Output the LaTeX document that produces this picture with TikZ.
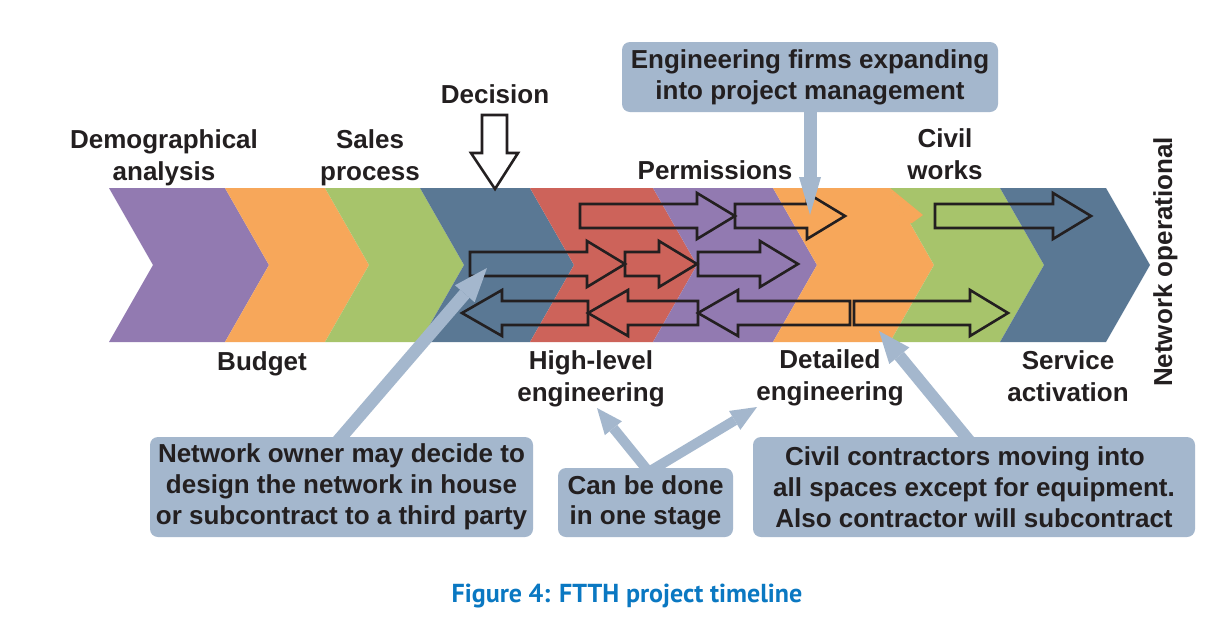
\documentclass[tikz,border=0pt]{standalone}
\usepackage{fontspec}
\setmainfont{Liberation Sans}
\newfontfamily\capfont{PT Sans}
\usetikzlibrary{arrows.meta}
\definecolor{ink}{HTML}{231F20}
\definecolor{cpurple}{HTML}{927AB1}
\definecolor{corange}{HTML}{F7A75A}
\definecolor{cgreen}{HTML}{A7C46B}
\definecolor{cslate}{HTML}{5A7894}
\definecolor{cred}{HTML}{CD635A}
\definecolor{callout}{HTML}{A4B7CD}
\definecolor{capblue}{HTML}{0A78C2}
\newcommand\chev[3]{%
  \fill[#1] (#2,188) -- (#3,188) -- (#3+44,265) -- (#3,342) -- (#2,342) -- (#2+44,265) -- cycle;}
\newcommand\blkR[3]{%
  \draw[blockarr] (#1,#3-12) -- (#2-38,#3-12) -- (#2-38,#3-23) -- (#2,#3) -- (#2-38,#3+23) -- (#2-38,#3+12) -- (#1,#3+12) -- cycle;}
\newcommand\blkL[3]{%
  \draw[blockarr] (#2,#3-12) -- (#1+40,#3-12) -- (#1+40,#3-23) -- (#1,#3) -- (#1+40,#3+23) -- (#1+40,#3+12) -- (#2,#3+12) -- cycle;}
\begin{document}
\begin{tikzpicture}[x=1pt,y=-1pt,
  lbl/.style={font=\fontsize{26}{32}\selectfont\bfseries, text=ink, align=center, inner sep=0pt, anchor=base},
  blockarr/.style={draw=ink, line width=2.6pt, line join=miter},
  box/.style={fill=callout, rounded corners=8pt, inner sep=0pt, text=ink, align=center, font=\fontsize{26}{31}\selectfont\bfseries},
  callarrow/.style={draw=callout, line width=12pt, shorten <=-6pt}
]
\useasboundingbox (0,0) rectangle (1228,622);
\fill[white] (0,0) rectangle (1228,622);
% band of chevrons
\chev{cpurple}{109}{225}
\chev{corange}{225}{325}
\chev{cgreen}{325}{420}
\chev{cslate}{420}{530}
\chev{cred}{530}{653}
\chev{cpurple}{653}{773}
\chev{corange}{773}{890}
\chev{cgreen}{890}{1000}
\chev{cslate}{1000}{1106}
\fill[corange] (890,188) -- (923,215) -- (912,223) -- (909,223) -- cycle;
% decision arrow
\draw[blockarr, fill=white] (482,115) -- (507,115) -- (507,153) -- (518,153) -- (495,189) -- (471,153) -- (482,153) -- cycle;
% outlined process arrows
\blkR{580}{735}{216}
\blkR{735}{845}{216}
\blkR{935}{1091}{216}
\blkR{470}{625}{264}
\blkR{625}{697}{264}
\blkR{698}{798}{264}
\blkL{462}{588}{313}
\blkL{588}{698}{313}
\blkL{698}{850}{313}
\blkR{854}{1008}{313}
% labels (base anchor = baseline of the last line)
\node[lbl] (demo) at (164,180) {Demographical\\analysis};
\node[lbl] (sales) at (370,180) {Sales\\process};
\node[lbl] (dec) at (495,103) {Decision};
\node[lbl] (perm) at (715,179) {Permissions};
\node[lbl] (civil) at (945,179) {Civil\\works};
\node[lbl] (budget) at (262,370) {Budget};
\node[lbl] (hle) at (591,401) {High-level\\engineering};
\node[lbl] (de) at (830,400) {Detailed\\engineering};
\node[lbl] (sa) at (1068,401) {Service\\activation};
\node[lbl, rotate=90] (netop) at (1172,262) {Network operational};
% callout boxes
\node[box, minimum width=376pt, minimum height=70pt] (eng) at (810,77) {Engineering firms expanding\\into project management};
\node[box, minimum width=383pt, minimum height=100pt] (own) at (341.5,487) {Network owner may decide to\\design the network in house\\or subcontract to a third party};
\node[box, minimum width=175pt, minimum height=69pt, font=\fontsize{26}{30}\selectfont\bfseries] (one) at (645.5,502.5) {Can be done\\in one stage};
\node[box, minimum width=442pt, minimum height=100pt] (civ) at (974,487) {Civil contractors moving into\hspace*{18pt}\\all spaces except for equipment.\\Also contractor will subcontract};
% callout pointers
\coordinate (engtip) at (810,215);
\coordinate (owntip) at (487,268);
\coordinate (hletip) at (597,408);
\coordinate (detip) at (757,407);
\coordinate (civtip) at (879,331);
\draw[callarrow, line width=13pt, -{Triangle[width=22pt,length=38pt,line width=0pt]}] (eng.south) -- (engtip);
\draw[callarrow, line width=12.5pt, -{Triangle[width=26pt,length=34pt,line width=0pt]}] (own.north) -- (owntip);
\draw[callarrow, line width=10pt, -{Triangle[width=22pt,length=26pt,line width=0pt]}] (one.north) -- (hletip);
\draw[callarrow, line width=10pt, -{Triangle[width=22pt,length=26pt,line width=0pt]}] ([xshift=10pt]one.north) -- (detip);
\draw[callarrow, line width=12pt, -{Triangle[width=26pt,length=32pt,line width=0pt]}] ([xshift=-8pt]civ.north) -- (civtip);
% caption
\node[font=\capfont\bfseries\fontsize{26}{30}\selectfont, text=capblue, anchor=base, inner sep=0pt] (cap) at (627,602) {Figure 4: FTTH project timeline};
\end{tikzpicture}
\end{document}
